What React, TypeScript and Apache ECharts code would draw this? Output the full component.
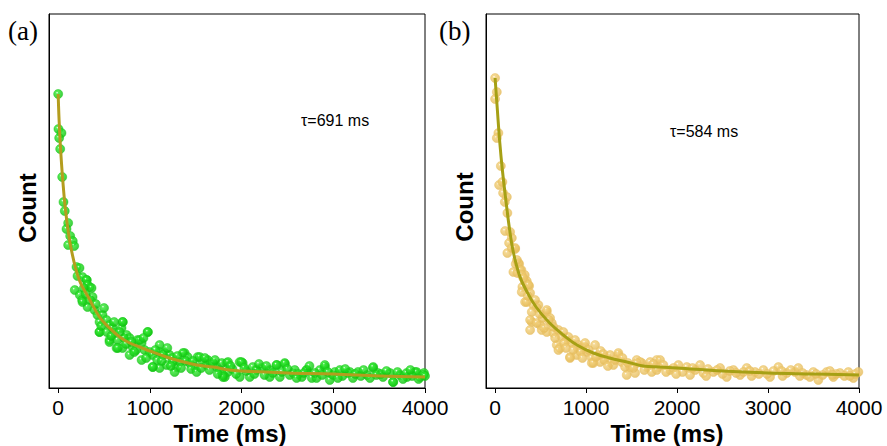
import React, { useEffect, useRef } from "react";
import * as echarts from "echarts";

// Panel (a) measured points [time ms, count (arb.)]
const pointsA: number[][] = [
  [0, 294], [3, 259], [36, 255], [11, 250], [22, 239], [44, 211], [58, 186], [72, 177],
  [109, 165], [91, 159], [131, 152], [159, 147], [109, 143], [175, 142], [200, 121],
  [211, 112], [265, 111], [312, 108], [342, 101], [181, 98], [236, 93], [375, 91],
  [262, 88], [320, 81], [233, 120], [309, 108], [320, 103], [364, 100], [265, 86],
  [396, 78], [429, 73], [484, 73], [451, 66], [451, 56], [527, 68], [560, 63], [593, 60],
  [615, 55], [560, 48], [648, 48], [702, 66], [691, 60], [746, 53], [779, 50], [637, 40],
  [702, 40], [779, 33], [811, 41], [866, 48], [910, 45], [975, 56], [942, 38], [997, 36],
  [910, 28], [1030, 33], [1106, 43], [1106, 36], [1161, 35], [1215, 33], [1030, 21],
  [1106, 20], [1183, 23], [1248, 30], [1292, 21], [1325, 26], [1379, 35], [1412, 31],
  [1434, 25], [1489, 21], [1521, 31], [1576, 26], [1620, 23], [1631, 28], [1685, 25],
  [1729, 21], [1762, 18], [1838, 25], [1849, 16], [1817, 11], [1784, 25], [1795, 13],
  [1980, 26], [2012, 25], [1980, 11], [2089, 11], [2122, 21], [2220, 20], [2307, 18],
  [2384, 23], [2471, 24], [2417, 11], [2525, 13], [2580, 18], [2657, 11], [2711, 18],
  [2766, 10], [2853, 18], [2908, 21], [2962, 8], [3017, 16], [3072, 18], [3159, 15],
  [3214, 10], [3269, 16], [3367, 13], [3433, 20], [3487, 15], [3542, 11], [3618, 15],
  [3651, 6], [3727, 13], [3804, 11], [3891, 16], [3945, 11], [3989, 15],
  [451, 56], [560, 46], [705, 66], [979, 56], [651, 40], [888, 48], [1033, 21],
  [1142, 33], [1270, 16], [1361, 35], [1543, 31], [1688, 25], [1797, 11], [1852, 26],
  [1998, 26], [2162, 18], [2381, 23], [2471, 25], [2307, 11], [2562, 15], [2708, 18],
  [2908, 23], [2817, 10], [2999, 13], [3181, 16], [3435, 21], [3654, 6], [3800, 15],
  [3909, 16], [3982, 13], [2050, 17], [2250, 13], [2440, 16], [2620, 14], [2800, 15],
  [3100, 12], [3300, 12], [3520, 14], [3700, 16], [3860, 12], [1900, 19], [1450, 19],
  [1250, 26], [850, 38], [720, 50], [530, 56],
  [280, 100], [300, 94], [350, 88], [410, 84], [470, 62], [500, 80], [580, 52], [610, 66],
  [670, 56], [740, 44], [800, 46], [830, 36], [930, 50], [960, 30], [1060, 38], [1080, 28],
  [1130, 27], [1190, 40], [1230, 22], [1300, 32], [1340, 20], [1390, 27], [1470, 27],
  [1510, 16], [1560, 20], [1600, 30], [1650, 18], [1710, 28], [1740, 14], [1880, 22],
  [1940, 14], [2030, 20], [2140, 14], [2190, 24], [2270, 22], [2340, 15], [2500, 19],
  [2600, 10], [2680, 15], [2740, 22], [2880, 13], [2940, 16], [3050, 10], [3130, 19],
  [3240, 14], [3330, 18], [3400, 10], [3470, 13], [3580, 17], [3760, 9], [3840, 18],
  [3930, 9], [4000, 12]
];

// Panel (a) fitted decay
const fitTimeA = [0, 10, 25, 50, 85, 140, 230, 340, 450, 560, 670, 780, 890, 1000, 1180, 1330, 1510, 1690, 1870, 2000, 2500, 3000, 3500, 4000];
const fitCountA = [294, 268, 241, 208, 174, 140, 108, 89, 71, 60, 51, 45, 41, 37, 31, 27, 23, 21, 18, 17, 15, 14, 12, 11];

// Panel (b) measured points
const pointsB: number[][] = [
  [0, 310], [19, 296], [0, 289], [36, 255], [19, 250], [63, 222], [44, 203], [80, 206],
  [88, 195], [129, 191], [107, 186], [135, 175], [110, 157], [165, 156], [184, 150],
  [154, 145], [220, 139], [135, 135], [227, 124], [264, 124], [201, 116], [289, 118],
  [326, 113], [245, 115], [348, 107], [374, 102], [300, 101], [184, 140], [220, 140],
  [256, 125], [275, 118], [293, 113], [330, 106], [366, 103], [293, 96], [330, 86],
  [385, 95], [421, 83], [476, 83], [458, 80], [568, 76], [403, 76], [403, 66], [385, 58],
  [495, 63], [513, 58], [604, 70], [623, 65], [568, 56], [641, 55], [696, 58], [733, 51],
  [678, 43], [714, 40], [788, 48], [806, 51], [843, 45], [879, 48], [916, 43], [824, 31],
  [898, 33], [953, 40], [1008, 36], [989, 41], [1099, 43], [1063, 30], [1063, 25],
  [1135, 33], [1154, 26], [1228, 31], [1264, 26], [1300, 23], [1355, 33], [1392, 26],
  [1447, 13], [1484, 21], [1539, 15], [1557, 28], [1612, 25], [1667, 21], [1722, 16],
  [1777, 28], [1795, 21], [1594, 26], [1704, 26], [1813, 28], [1850, 23], [1777, 18],
  [1923, 18], [2015, 23], [2107, 21], [2253, 23], [2143, 13], [2290, 15], [2400, 16],
  [2473, 20], [2546, 11], [2619, 18], [2693, 13], [2766, 20], [2857, 16], [2949, 18],
  [3022, 11], [3114, 21], [3206, 15], [3297, 16], [3333, 20], [3425, 13], [3498, 16],
  [3553, 8], [3645, 16], [3718, 11], [3791, 15], [3883, 16], [3938, 10], [3993, 16],
  [348, 86], [385, 68], [458, 65], [568, 78], [641, 61], [696, 38], [824, 30], [898, 41],
  [989, 45], [1080, 25], [1264, 33], [1355, 35], [1429, 21], [1557, 25], [1960, 20],
  [2060, 16], [2200, 18], [2340, 19], [2500, 14], [2580, 17], [2730, 16], [2820, 12],
  [2900, 14], [3060, 17], [3160, 12], [3250, 18], [3380, 15], [3460, 11], [3600, 13],
  [3680, 17], [3750, 14], [3840, 12], [3960, 14], [1160, 37], [1200, 28], [940, 36],
  [760, 45], [520, 70],
  [240, 128], [310, 110], [360, 92], [440, 88], [490, 74], [540, 60], [590, 68], [660, 50],
  [750, 56], [780, 40], [860, 38], [960, 30], [1030, 38], [1110, 31], [1190, 34], [1240, 22],
  [1320, 28], [1400, 30], [1460, 25], [1520, 20], [1640, 18], [1740, 24], [1880, 16],
  [1990, 14], [2170, 20], [2320, 12], [2440, 18], [2650, 15], [2800, 17], [2990, 14],
  [3150, 17], [3350, 12], [3530, 14], [3710, 13], [3900, 12]
];

// Panel (b) fitted decay
const fitTimeB = [0, 25, 52, 80, 118, 160, 200, 270, 340, 450, 600, 750, 900, 1080, 1260, 1450, 1630, 1810, 2000, 2500, 3000, 3500, 4000];
const fitCountB = [310, 278, 245, 218, 188, 158, 136, 112, 98, 81, 65, 53, 43, 35, 30, 26, 22, 21, 20, 17, 15, 14, 13];

const xTicks = [0, 1000, 2000, 3000, 4000];

const SANS = 'Arial, "Liberation Sans", Helvetica, sans-serif';
const SERIF = '"Times New Roman", "Liberation Serif", serif';

function ball(base: string, edge: string) {
  return new echarts.graphic.RadialGradient(0.38, 0.35, 0.62, [
    { offset: 0, color: "#ffffff" },
    { offset: 0.22, color: base },
    { offset: 1, color: edge },
  ]);
}

function xAxisFor(gridIndex: number) {
  return {
    type: "value",
    gridIndex,
    min: -100,
    max: 4000,
    axisLine: { show: true, onZero: false, lineStyle: { color: "#000", width: 1 } },
    axisTick: { show: true, customValues: xTicks, length: 5, lineStyle: { color: "#000" } },
    axisLabel: {
      customValues: xTicks,
      formatter: (v: number) => String(v),
      color: "#000",
      fontSize: 21,
      fontFamily: SANS,
      margin: 9,
    },
    splitLine: { show: false },
  };
}

function yAxisFor(gridIndex: number) {
  return {
    type: "value",
    gridIndex,
    min: 0,
    max: 374,
    axisLine: { show: true, onZero: false, lineStyle: { color: "#000", width: 1 } },
    axisTick: { show: false },
    axisLabel: { show: false },
    splitLine: { show: false },
  };
}

export default function App() {
  const ref = useRef<HTMLDivElement>(null);
  useEffect(() => {
    if (!ref.current) return;
    const chart = echarts.init(ref.current, null, { renderer: "svg" });
    const fitA = fitTimeA.map((t, i) => [t, fitCountA[i]]);
    const fitB = fitTimeB.map((t, i) => [t, fitCountB[i]]);
    chart.setOption({
      animation: false,
      backgroundColor: "#fff",
      grid: [
        { left: 49, top: 14, width: 376, height: 374, show: true, borderColor: "#000", borderWidth: 1, backgroundColor: "transparent" },
        { left: 486, top: 14, width: 373, height: 374, show: true, borderColor: "#000", borderWidth: 1, backgroundColor: "transparent" },
      ],
      xAxis: [xAxisFor(0), xAxisFor(1)],
      yAxis: [yAxisFor(0), yAxisFor(1)],
      series: [
        {
          type: "scatter",
          xAxisIndex: 0,
          yAxisIndex: 0,
          data: pointsA,
          symbolSize: 9,
          itemStyle: { color: ball("#2ee82e", "#0fc40f"), borderColor: "#19c919", borderWidth: 0.6 },
          z: 2,
        },
        {
          type: "line",
          xAxisIndex: 0,
          yAxisIndex: 0,
          data: fitA,
          smooth: 0.4,
          showSymbol: false,
          lineStyle: { color: "#b49d1e", width: 3 },
          z: 3,
        },
        {
          type: "scatter",
          xAxisIndex: 1,
          yAxisIndex: 1,
          data: pointsB,
          symbolSize: 9,
          itemStyle: { color: ball("#f2cf78", "#e5bb5a"), borderColor: "#e8c064", borderWidth: 0.6 },
          z: 2,
        },
        {
          type: "line",
          xAxisIndex: 1,
          yAxisIndex: 1,
          data: fitB,
          smooth: 0.4,
          showSymbol: false,
          lineStyle: { color: "#a6a015", width: 3 },
          z: 3,
        },
      ],
      graphic: [
        { type: "text", left: 8, top: 17, style: { text: "(a)", font: `27px ${SERIF}`, fill: "#000" } },
        { type: "text", left: 439, top: 17, style: { text: "(b)", font: `27px ${SERIF}`, fill: "#000" } },
        { type: "text", x: 301, y: 120, style: { text: "τ=691 ms", font: `16px ${SANS}`, fill: "#000", verticalAlign: "middle" } },
        { type: "text", x: 670, y: 131, style: { text: "τ=584 ms", font: `16px ${SANS}`, fill: "#000", verticalAlign: "middle" } },
        { type: "text", x: 230, y: 433, style: { text: "Time (ms)", font: `bold 24px ${SANS}`, fill: "#000", align: "center", verticalAlign: "middle" } },
        { type: "text", x: 667, y: 433, style: { text: "Time (ms)", font: `bold 24px ${SANS}`, fill: "#000", align: "center", verticalAlign: "middle" } },
        { type: "text", x: 27, y: 208, rotation: Math.PI / 2, style: { text: "Count", font: `bold 24px ${SANS}`, fill: "#000", align: "center", verticalAlign: "middle" } },
        { type: "text", x: 464, y: 207, rotation: Math.PI / 2, style: { text: "Count", font: `bold 24px ${SANS}`, fill: "#000", align: "center", verticalAlign: "middle" } },
      ],
    });
    return () => chart.dispose();
  }, []);
  return (
    <div
      ref={ref}
      style={{ position: "fixed", left: 0, top: 0, width: 887, height: 446, background: "#fff" }}
    />
  );
}
